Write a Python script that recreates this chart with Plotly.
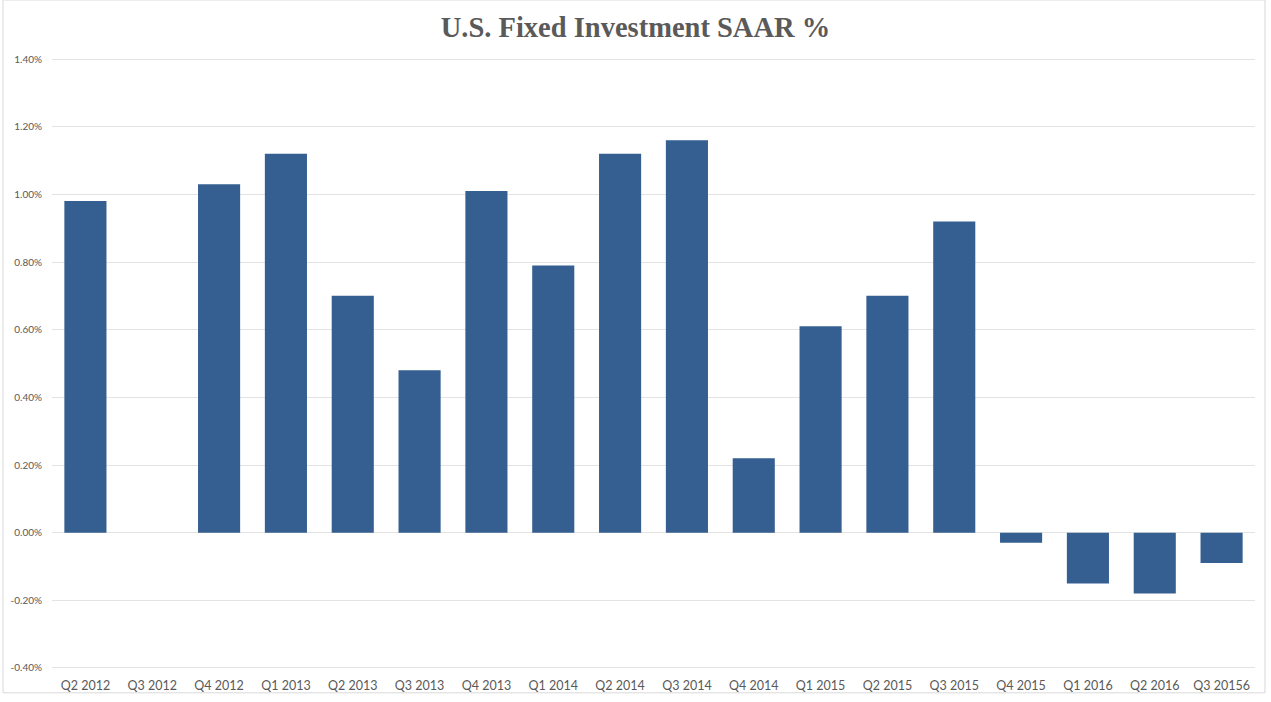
import plotly.graph_objects as go

categories = ["Q2 2012", "Q3 2012", "Q4 2012", "Q1 2013", "Q2 2013", "Q3 2013",
              "Q4 2013", "Q1 2014", "Q2 2014", "Q3 2014", "Q4 2014", "Q1 2015",
              "Q2 2015", "Q3 2015", "Q4 2015", "Q1 2016", "Q2 2016", "Q3 20156"]
values = [0.98, 0.0, 1.03, 1.12, 0.70, 0.48, 1.01, 0.79, 1.12, 1.16, 0.22, 0.61,
          0.70, 0.92, -0.03, -0.15, -0.18, -0.09]
tick_vals = [-0.4, -0.2, 0.0, 0.2, 0.4, 0.6, 0.8, 1.0, 1.2, 1.4]
tick_text = ["-0.40%", "-0.20%", "0.00%", "0.20%", "0.40%", "0.60%", "0.80%",
             "1.00%", "1.20%", "1.40%"]

fig = go.Figure()
fig.add_trace(go.Bar(
    x=categories, y=values,
    marker=dict(color="#355e91", line=dict(width=0)),
    hoverinfo="x+y",
))

fig.update_layout(
    width=1271, height=702,
    margin=dict(l=52, r=16, t=58, b=33),
    paper_bgcolor="white", plot_bgcolor="white",
    bargap=0.37,
    showlegend=False,
    title=dict(text="<b>U.S. Fixed Investment SAAR %</b>", x=0.5, xanchor="center",
               y=0.962, yanchor="middle",
               font=dict(family="Liberation Serif, DejaVu Serif, serif", size=28.5, color="#5a5a5a")),
    font=dict(family="Lato, Open Sans, sans-serif", color="#595959"),
    xaxis=dict(showgrid=False, showline=False, zeroline=False, ticks="", automargin=False,
               tickfont=dict(size=12.5, color="#595959"), ticklabelstandoff=7),
    yaxis=dict(range=[-0.403, 1.403], tickvals=tick_vals, ticktext=tick_text, automargin=False,
               showgrid=True, gridcolor="#e3e3e3", gridwidth=1,
               zeroline=False, showline=False, ticks="",
               tickfont=dict(size=10, color="#595959"), ticklabelstandoff=9),
)

fig.add_shape(type="rect", xref="paper", yref="paper",
              x0=-0.0407, x1=1.0083, y0=-0.039, y1=1.095,
              line=dict(color="#d9d9d9", width=1), fillcolor="rgba(0,0,0,0)", layer="below")

fig.write_html("out.html")
